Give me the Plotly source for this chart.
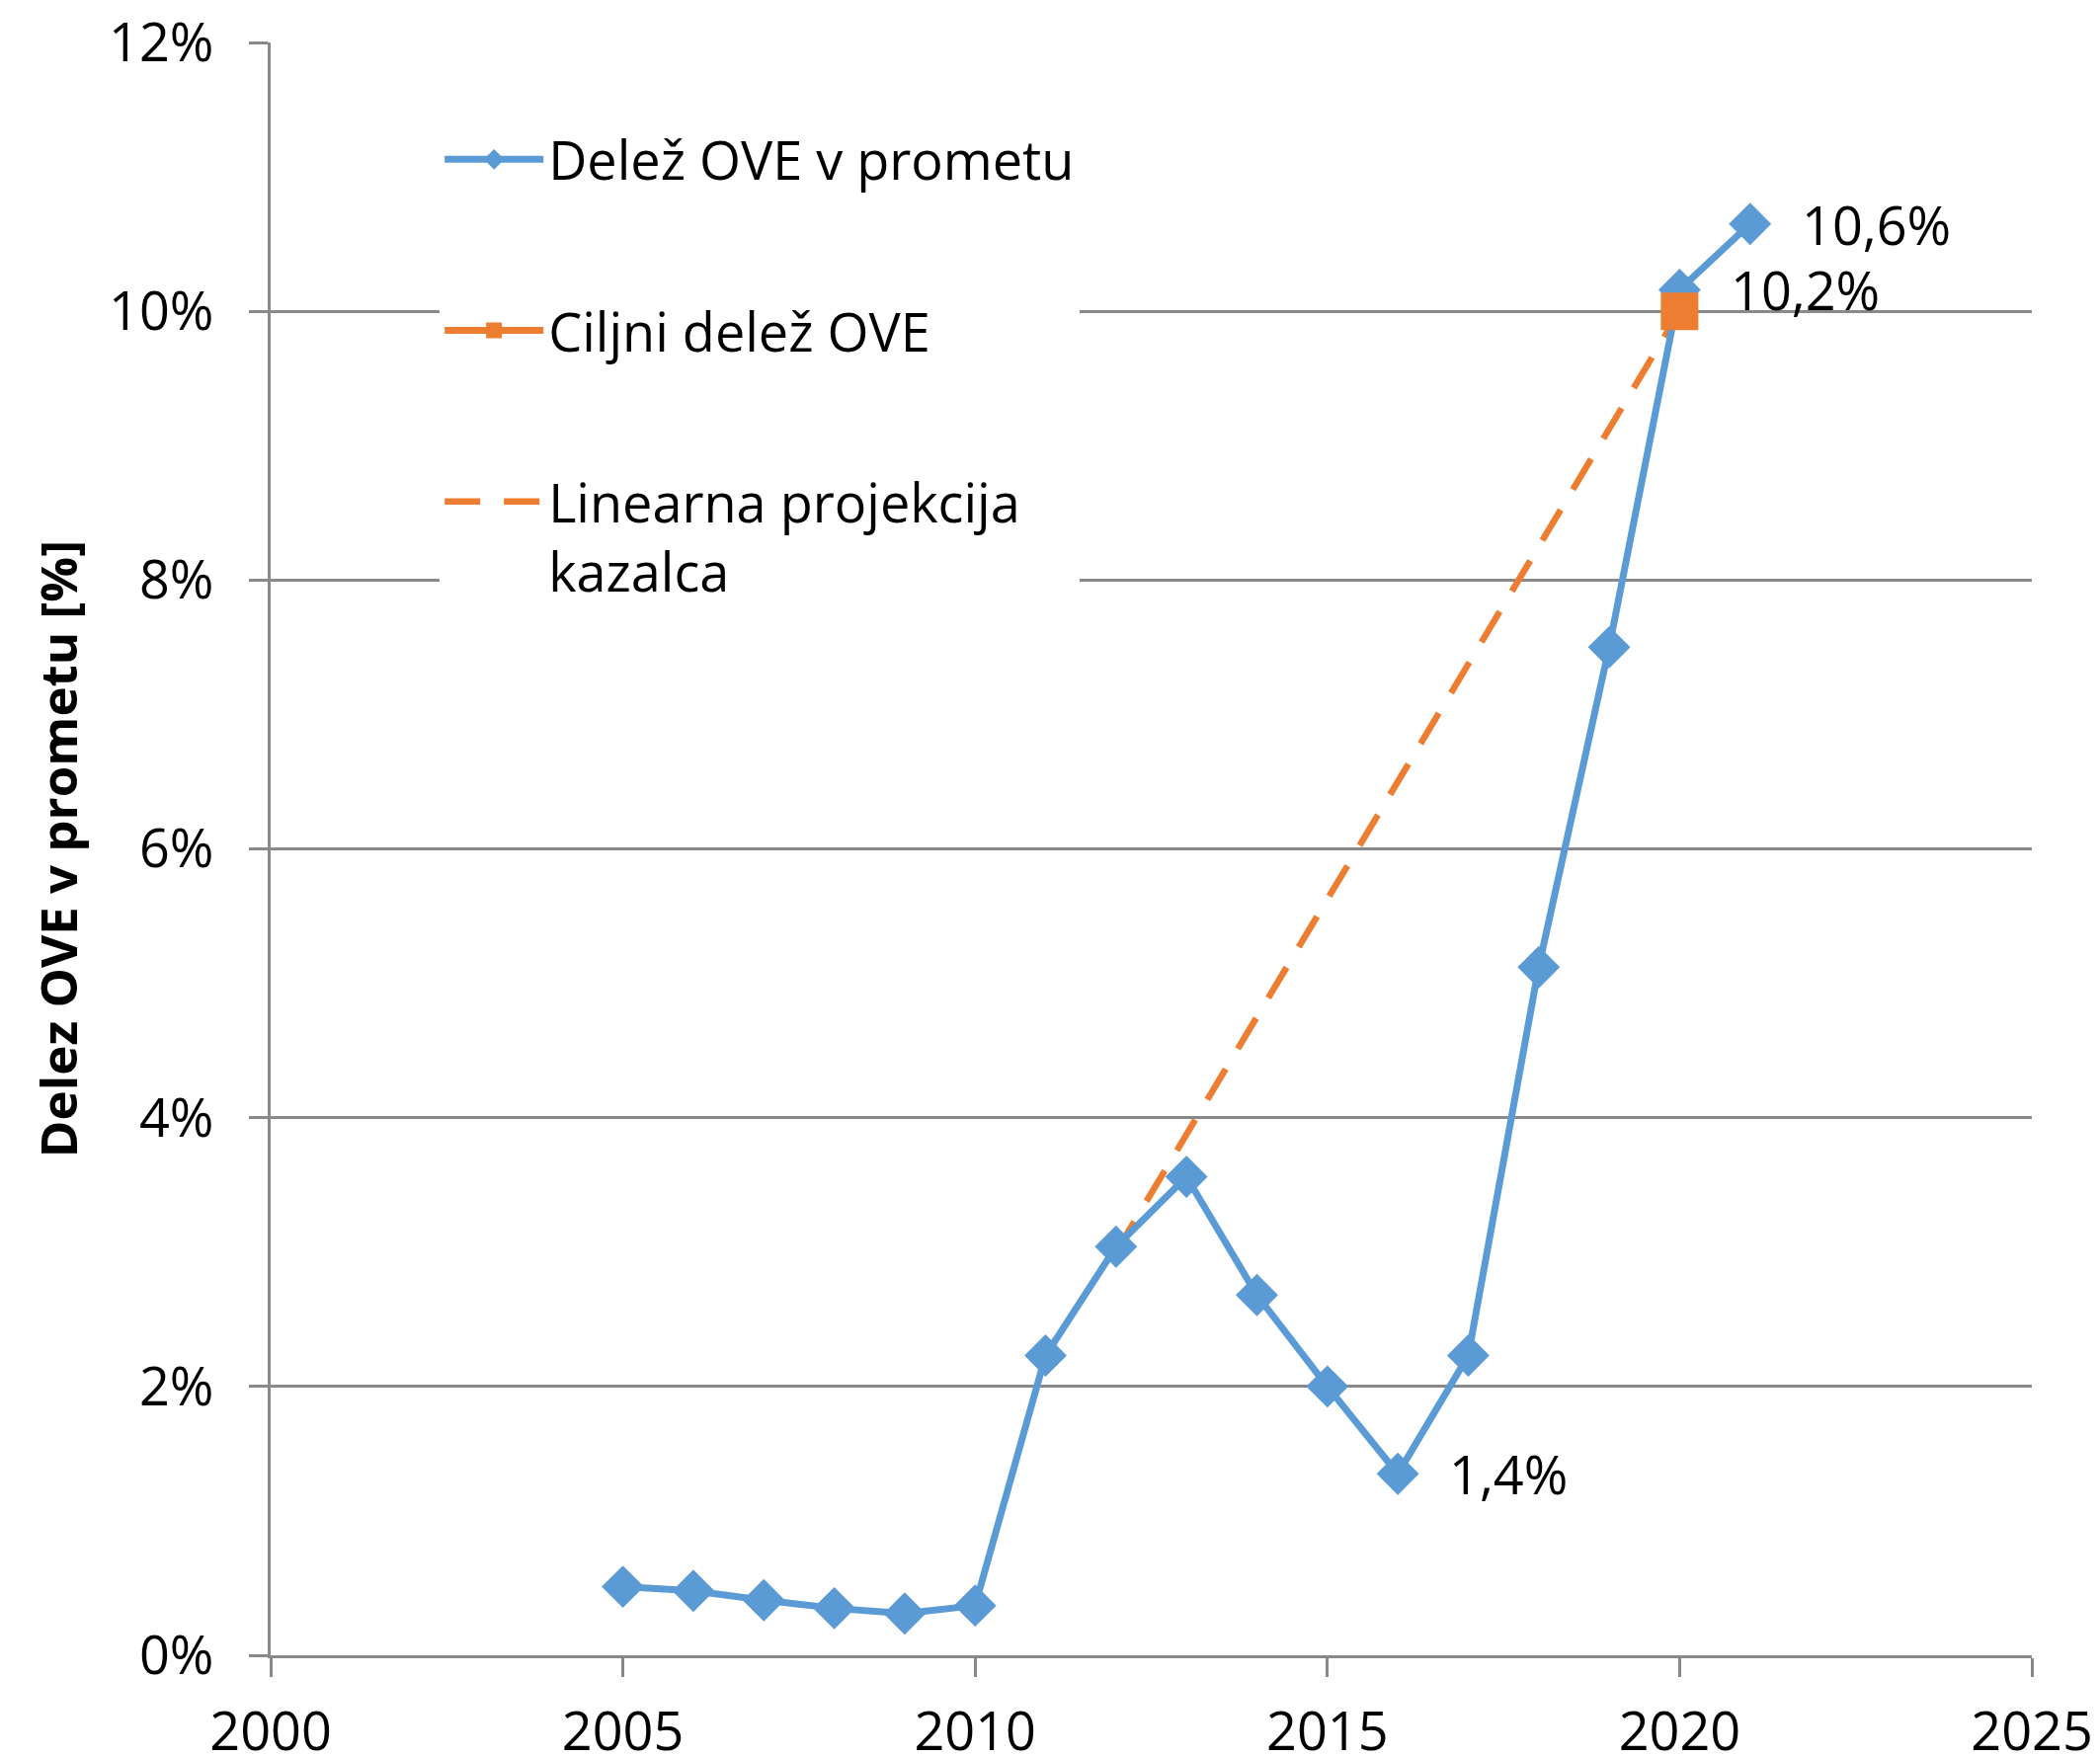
import plotly.graph_objects as go

# Data
years = [2005, 2006, 2007, 2008, 2009, 2010, 2011, 2012, 2013,
         2014, 2015, 2016, 2017, 2018, 2019, 2020, 2021]
share = [0.51, 0.48, 0.41, 0.35, 0.31, 0.37, 2.23, 3.04, 3.56,
         2.68, 2.00, 1.35, 2.23, 5.12, 7.50, 10.16, 10.65]

target_years = [2020]
target_share = [10.0]

proj_years = [2012, 2020]
proj_share = [3.0, 10.0]

# labelled points
label_years = [2016, 2020, 2021]
label_texts = ['1,4%', '10,2%', '10,6%']

BLUE = '#5B9BD5'
ORANGE = '#ED7D31'
GRID = '#898989'
FONT = 'Open Sans'
FS = 54

fig = go.Figure()

# dashed projection first so it sits behind the blue line
fig.add_trace(go.Scatter(
    x=proj_years, y=proj_share, mode='lines', name='Linearna projekcija<br>kazalca',
    legendgroup='c', legendrank=3,
    line=dict(color=ORANGE, width=6.5, dash='36px,24px')))

fig.add_trace(go.Scatter(
    x=years, y=share, mode='lines+markers', name='Delež OVE v prometu',
    legendgroup='a', legendrank=1,
    line=dict(color=BLUE, width=7),
    marker=dict(symbol='diamond', size=33, color=BLUE)))

fig.add_trace(go.Scatter(
    x=target_years, y=target_share, mode='lines+markers', name='Ciljni delež OVE',
    legendgroup='b', legendrank=2,
    line=dict(color=ORANGE, width=7),
    marker=dict(symbol='square', size=38, color=ORANGE)))

for yr, txt in zip(label_years, label_texts):
    fig.add_annotation(x=yr, y=share[years.index(yr)], text=txt,
                       showarrow=False, xanchor='left', xshift=50,
                       font=dict(family=FONT, size=FS, color='black'))

# the page body adds an 8px offset, margins account for it
fig.update_layout(
    width=2126, height=1779,
    margin=dict(l=266, r=77, t=35, b=111),
    paper_bgcolor='white', plot_bgcolor='white',
    font=dict(family=FONT, size=FS, color='black'),
    showlegend=True,
    legend=dict(x=0.096, y=0.953, xanchor='left', yanchor='top',
                bgcolor='white', traceorder='grouped', tracegroupgap=100,
                valign='top', itemwidth=100,
                font=dict(family=FONT, size=FS, color='black')),
    xaxis=dict(range=[2000, 2025], dtick=5, tick0=2000, automargin=False,
               showgrid=False, zeroline=False,
               showline=True, linecolor=GRID, linewidth=2.5,
               ticks='outside', ticklen=19, tickwidth=2.5, tickcolor=GRID,
               ticklabelstandoff=9, ticklabeloverflow='allow',
               tickfont=dict(family=FONT, size=FS, color='black')),
    yaxis=dict(range=[0, 12], dtick=2, tick0=0, ticksuffix='%', automargin=False,
               showgrid=True, gridcolor=GRID, gridwidth=2.5, zeroline=False,
               showline=True, linecolor=GRID, linewidth=2.5,
               ticks='outside', ticklen=19, tickwidth=2.5, tickcolor=GRID,
               ticklabelstandoff=25, ticklabeloverflow='allow',
               tickfont=dict(family=FONT, size=FS, color='black'),
               title=dict(text='<b>Delez OVE v prometu [%]</b>', standoff=16,
                          font=dict(family=FONT, size=51, color='black'))),
)

fig.write_html("out.html")
